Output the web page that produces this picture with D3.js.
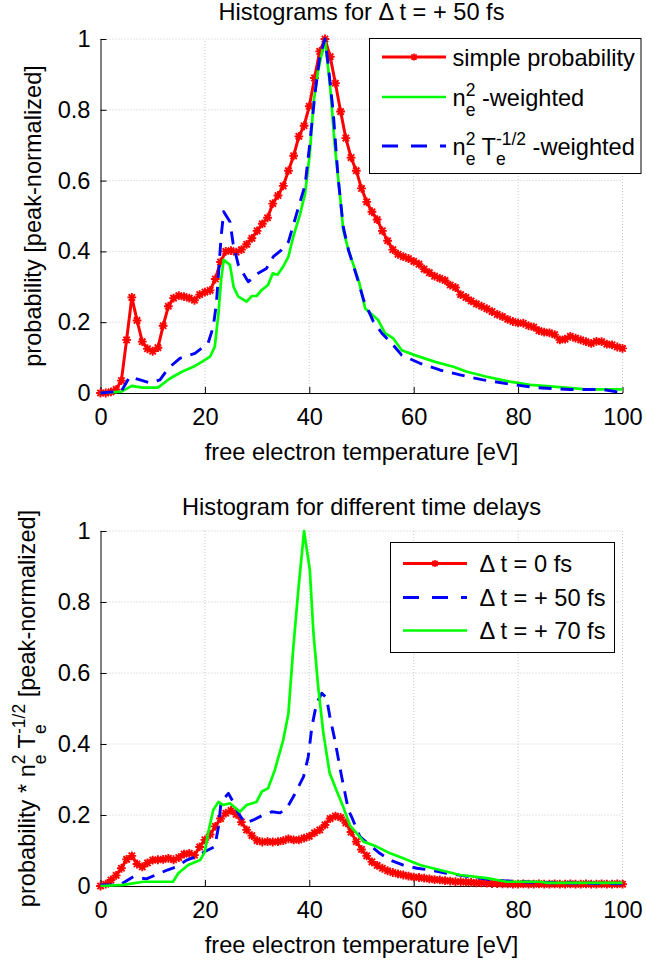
<!DOCTYPE html>
<html><head><meta charset="utf-8">
<script src="https://cdn.jsdelivr.net/npm/d3@7"></script>
<style>
html,body{margin:0;padding:0;background:#fff;}
svg text{font-family:"Liberation Sans",Arial,Helvetica,sans-serif;fill:#000;white-space:pre;}
</style></head>
<body><svg id="c" width="646" height="965"></svg>
<script>
// ---------------- data ----------------
const xTicks = [0, 20, 40, 60, 80, 100];
const xTickLabels = ["0", "20", "40", "60", "80", "100"];
const yTicks = [0, 0.2, 0.4, 0.6, 0.8, 1];
const yTickLabels = ["0", "0.2", "0.4", "0.6", "0.8", "1"];

// bin temperatures (eV) for the marker curves
const binTemps = d3.range(0, 101);

// top panel: simple probability (per 1 eV bin)
const topSimple = [0,0,0.003,0.01,0.035,0.15,0.27,0.205,0.145,0.125,
 0.118,0.128,0.19,0.245,0.268,0.275,0.272,0.268,0.262,0.278,
 0.285,0.29,0.322,0.37,0.4,0.402,0.398,0.405,0.42,0.437,
 0.458,0.478,0.495,0.535,0.558,0.585,0.628,0.67,0.725,0.755,
 0.81,0.89,0.965,1.0,0.95,0.875,0.795,0.72,0.665,0.628,
 0.578,0.54,0.512,0.49,0.458,0.43,0.405,0.392,0.385,0.38,
 0.372,0.364,0.35,0.34,0.33,0.324,0.318,0.305,0.298,0.278,
 0.27,0.26,0.252,0.245,0.238,0.23,0.222,0.216,0.208,0.202,
 0.198,0.197,0.19,0.186,0.176,0.172,0.17,0.165,0.15,0.152,
 0.16,0.155,0.15,0.145,0.14,0.146,0.145,0.138,0.136,0.13,0.126];

// top panel: n_e^2-weighted  [temperature, value]
const topNe2 = [[0,0],[4,0.004],[6,0.02],[8,0.015],[11,0.015],[13.3,0.041],[15.6,0.06],[17.8,0.074],[19.4,0.088],[21,0.103],[21.9,0.131],[22.6,0.225],[23.1,0.319],[23.6,0.376],[24.8,0.362],[25.5,0.3],[26.4,0.272],[28,0.258],[29,0.274],[29.9,0.274],[30.9,0.291],[32.1,0.305],[33,0.338],[33.9,0.334],[35,0.357],[36,0.385],[36.9,0.44],[38.2,0.503],[39.2,0.564],[40.1,0.677],[40.8,0.818],[41.7,0.912],[43,1.0],[44,0.865],[44.9,0.696],[45.9,0.555],[46.5,0.46],[47.5,0.404],[48.8,0.347],[49.6,0.31],[50.7,0.239],[53.2,0.206],[54.5,0.169],[56.1,0.154],[57.7,0.121],[60.2,0.107],[64.1,0.088],[67.6,0.074],[70.2,0.06],[74,0.046],[78.4,0.032],[82.3,0.023],[86.7,0.018],[93.1,0.01],[100,0.01]];

// top panel: n_e^2 T_e^-1/2-weighted
const topNe2Te = [[0,0],[4,0.005],[5.6,0.046],[7.6,0.037],[9.5,0.028],[11.4,0.037],[13,0.07],[15.2,0.098],[18.1,0.112],[20.6,0.14],[21.6,0.187],[22.2,0.253],[23.1,0.44],[23.6,0.512],[24.8,0.484],[25.4,0.423],[26.4,0.362],[28.3,0.314],[30.2,0.338],[31.8,0.352],[33.1,0.385],[34.7,0.404],[36,0.427],[37.6,0.508],[39.2,0.588],[40.1,0.705],[41.1,0.847],[42,0.95],[43,1.0],[43.6,0.93],[44.6,0.79],[45.5,0.611],[46.5,0.47],[47.5,0.404],[49.1,0.329],[50.4,0.263],[52.3,0.201],[53.9,0.169],[55.8,0.14],[57.7,0.107],[61.2,0.084],[65,0.065],[68.9,0.051],[73.3,0.037],[78.4,0.025],[83.5,0.015],[89.9,0.01],[96.3,0.01],[98.9,0.003],[100,0.002]];

// bottom panel: delta t = 0 fs (per 1 eV bin)
const botDt0 = [0,0.005,0.017,0.03,0.05,0.075,0.085,0.062,0.054,0.065,
 0.073,0.074,0.075,0.078,0.074,0.08,0.09,0.092,0.087,0.11,
 0.13,0.145,0.168,0.19,0.205,0.213,0.202,0.18,0.158,0.142,
 0.128,0.124,0.125,0.124,0.125,0.128,0.133,0.13,0.13,0.135,
 0.14,0.15,0.158,0.172,0.19,0.197,0.193,0.178,0.152,0.125,
 0.103,0.085,0.068,0.058,0.05,0.043,0.038,0.034,0.031,0.028,
 0.025,0.024,0.022,0.02,0.018,0.017,0.015,0.014,0.012,0.012,
 0.011,0.01,0.009,0.009,0.008,0.007,0.007,0.006,0.006,0.005,
 0.005,0.006,0.005,0.005,0.006,0.005,0.005,0.006,0.005,0.005,
 0.006,0.005,0.005,0.006,0.005,0.005,0.006,0.005,0.005,0.006,0.005];

// bottom panel: delta t = +50 fs
const botDt50 = [[0,0.003],[3.7,0.003],[6.3,0.026],[8.8,0.02],[12.8,0.045],[14.6,0.054],[16.5,0.073],[18.4,0.083],[20,0.097],[21.9,0.111],[22.6,0.167],[23.1,0.237],[24.5,0.261],[25.4,0.237],[26.4,0.205],[27.7,0.177],[29.3,0.186],[31.2,0.2],[32.8,0.209],[34.4,0.206],[35.7,0.219],[37.3,0.261],[38.9,0.308],[39.8,0.364],[40.5,0.449],[41.4,0.515],[42.4,0.543],[43.3,0.53],[43.9,0.48],[44.9,0.411],[46.2,0.308],[47.5,0.214],[48.1,0.195],[49.7,0.139],[51.6,0.115],[53.5,0.092],[55.5,0.073],[58,0.059],[60.6,0.05],[63.1,0.045],[66.3,0.036],[70.8,0.026],[75.2,0.017],[80.3,0.012],[86.7,0.009],[93,0.008],[100,0.006]];

// bottom panel: delta t = +70 fs
const botDt70 = [[0,0],[4.4,0.003],[8.2,0.012],[13.9,0.012],[14.9,0.036],[16.8,0.059],[19.1,0.073],[20,0.097],[20.6,0.148],[21.6,0.214],[22.6,0.237],[23.5,0.228],[24.8,0.233],[26.7,0.209],[28,0.228],[29.9,0.237],[30.9,0.266],[32.1,0.275],[33.4,0.327],[35,0.411],[36,0.486],[36.9,0.665],[37.9,0.834],[39,1.0],[40.1,0.89],[40.8,0.712],[41.7,0.561],[42.7,0.43],[43.9,0.318],[45.2,0.27],[46.5,0.223],[47.8,0.17],[49.1,0.148],[50.4,0.125],[52.9,0.111],[55.5,0.092],[58,0.078],[61.2,0.059],[65,0.045],[68.9,0.031],[74,0.022],[77.8,0.012],[84.2,0.012],[85.5,0.009],[100,0.009]];

// ---------------- drawing ----------------
const FS = 23.6;
const RED = "#ff0000", GREEN = "#00ff00", BLUE = "#0000ff";
const svg = d3.select("#c");
const x = d3.scaleLinear().domain([0, 100]).range([100.5, 622.5]);

function asterisk(r) {
  const k = r * 0.72;
  return `M${-r},0H${r}M0,${-r}V${r}M${-k},${-k}L${k},${k}M${-k},${k}L${k},${-k}`;
}

function rich(g, parts, size) {
  const grp = g.append("g");
  let cx = 0;
  parts.forEach(p => {
    if (typeof p === "string") {
      const el = grp.append("text").attr("x", cx).attr("y", 0).style("font-size", size + "px").text(p);
      cx += el.node().getComputedTextLength();
    } else {
      const ss = size * 0.74;
      const a = grp.append("text").attr("x", cx).attr("y", -size * 0.42).style("font-size", ss + "px").text(p.sup);
      const b = grp.append("text").attr("x", cx).attr("y", size * 0.45).style("font-size", ss + "px").text(p.sub);
      cx += Math.max(a.node().getComputedTextLength(), b.node().getComputedTextLength());
    }
  });
  return {grp, width: cx};
}

function panel(cfg) {
  const y = d3.scaleLinear().domain([0, 1]).range([cfg.y0, cfg.y1]);
  const g = svg.append("g");
  // grid
  g.append("g").selectAll("line").data(xTicks.filter(d => d > 0)).join("line")
    .attr("x1", d => x(d)).attr("x2", d => x(d)).attr("y1", y(0)).attr("y2", y(1))
    .attr("stroke", "#c8c8c8").attr("stroke-width", 1).attr("stroke-dasharray", "1,2");
  g.append("g").selectAll("line").data(yTicks.filter(d => d > 0)).join("line")
    .attr("x1", x(0)).attr("x2", x(100)).attr("y1", d => y(d)).attr("y2", d => y(d))
    .attr("stroke", "#c8c8c8").attr("stroke-width", 1).attr("stroke-dasharray", "1,2");
  // axes
  const ax = g.append("g").attr("transform", `translate(0,${y(0)})`)
    .call(d3.axisBottom(x).tickValues(xTicks).tickFormat((d, i) => xTickLabels[i]).tickSizeInner(-6).tickSizeOuter(0).tickPadding(15));
  const ay = g.append("g").attr("transform", `translate(${x(0)},0)`)
    .call(d3.axisLeft(y).tickValues(yTicks).tickFormat((d, i) => yTickLabels[i]).tickSizeInner(-6).tickSizeOuter(0).tickPadding(10));
  [ax, ay].forEach(a => {
    a.selectAll("text").style("font-size", FS + "px").attr("fill", "#000").style("font-family", '"Liberation Sans",Arial,sans-serif');
    a.selectAll("path,line").attr("stroke", "#000").attr("stroke-width", 1);
  });
  // title and x label
  g.append("text").attr("x", (x(0) + x(100)) / 2).attr("y", cfg.titleY).attr("text-anchor", "middle")
    .style("font-size", FS + "px").text(cfg.title);
  g.append("text").attr("x", (x(0) + x(100)) / 2).attr("y", y(0) + 67).attr("text-anchor", "middle")
    .style("font-size", FS + "px").text("free electron temperature [eV]");
  // y label (rotated)
  const yl = g.append("g").attr("transform", `translate(${cfg.ylabX},${(y(0) + y(1)) / 2}) rotate(-90)`);
  const r = rich(yl, cfg.ylabel, FS);
  r.grp.attr("transform", `translate(${-r.width / 2},0)`);

  // curves
  const cg = g.append("g");
  cfg.series.forEach(s => {
    const pts = s.temps ? s.vals.map((v, i) => [s.temps[i], v]) : s.vals;
    const line = d3.line().x(d => x(d[0])).y(d => y(d[1]));
    cg.append("path").attr("d", line(pts)).attr("fill", "none").attr("stroke", s.color)
      .attr("stroke-width", s.width).attr("stroke-dasharray", s.dash || null).attr("stroke-linejoin", "round");
    if (s.marker) {
      cg.append("g").selectAll("path").data(pts).join("path")
        .attr("transform", d => `translate(${x(d[0])},${y(d[1])})`)
        .attr("d", asterisk(4.4)).attr("fill", "none").attr("stroke", s.color).attr("stroke-width", 1.9);
    }
  });

  // legend
  const L = cfg.legend;
  g.append("rect").attr("x", L.x0).attr("y", L.y0).attr("width", L.x1 - L.x0).attr("height", L.y1 - L.y0)
    .attr("fill", "#fff").attr("stroke", "#000").attr("stroke-width", 1);
  L.rows.forEach((row, i) => {
    const s = cfg.series[row.s];
    const ly = L.rowY[i];
    g.append("line").attr("x1", L.lx0).attr("x2", L.lx1).attr("y1", ly).attr("y2", ly)
      .attr("stroke", s.color).attr("stroke-width", s.width).attr("stroke-dasharray", s.legendDash || null);
    if (s.marker) {
      g.append("path").attr("transform", `translate(${(L.lx0 + L.lx1) / 2},${ly})`)
        .attr("d", asterisk(3.6)).attr("fill", "none").attr("stroke", s.color).attr("stroke-width", 1.6);
    }
    const t = g.append("g").attr("transform", `translate(${L.tx},${ly + 8.5})`);
    rich(t, row.label, FS);
  });
}

panel({
  y0: 393, y1: 39, titleY: 20, ylabX: 41,
  title: "Histograms for \u0394 t = + 50 fs",
  ylabel: ["probability [peak-normalized]"],
  series: [
    {temps: binTemps, vals: topSimple, color: RED, width: 3, marker: true},
    {vals: topNe2, color: GREEN, width: 2.7},
    {vals: topNe2Te, color: BLUE, width: 2.9, dash: "13,9", legendDash: "16,13"}
  ],
  legend: {x0: 369.5, x1: 641, y0: 38.5, y1: 173.5, lx0: 382, lx1: 446, tx: 452.5,
    rowY: [57, 97, 146],
    rows: [
      {s: 0, label: ["simple probability"]},
      {s: 1, label: ["n", {sup: "2", sub: "e"}, " -weighted"]},
      {s: 2, label: ["n", {sup: "2", sub: "e"}, " T", {sup: "-1/2", sub: "e"}, " -weighted"]}
    ]}
});

panel({
  y0: 886, y1: 531, titleY: 515, ylabX: 35,
  title: "Histogram for different time delays",
  ylabel: ["probability * n", {sup: "2", sub: "e"}, " T", {sup: "-1/2", sub: "e"}, " [peak-normalized]"],
  series: [
    {temps: binTemps, vals: botDt0, color: RED, width: 3, marker: true},
    {vals: botDt50, color: BLUE, width: 2.9, dash: "13,9", legendDash: "16,13"},
    {vals: botDt70, color: GREEN, width: 2.7}
  ],
  legend: {x0: 390.5, x1: 614.5, y0: 542.5, y1: 652.5, lx0: 403, lx1: 467, tx: 479.5,
    rowY: [563.5, 597.5, 630.5],
    rows: [
      {s: 0, label: ["\u0394 t = 0 fs"]},
      {s: 1, label: ["\u0394 t = + 50 fs"]},
      {s: 2, label: ["\u0394 t = + 70 fs"]}
    ]}
});
</script></body></html>
